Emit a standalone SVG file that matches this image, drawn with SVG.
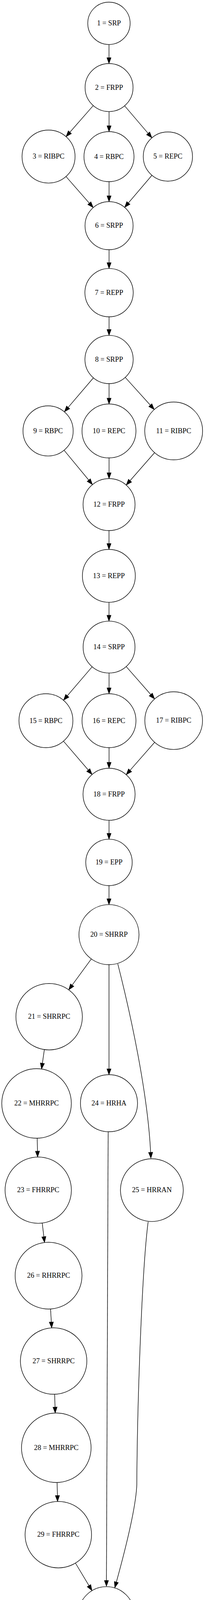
<svg xmlns="http://www.w3.org/2000/svg" width="527" height="4583" viewBox="0 0 527 4583">
<style>
.node circle{fill:#ffffff;stroke:#000000;stroke-width:1.4}
.node text{font-family:"Liberation Serif","Times New Roman",serif;font-size:18.3px;text-anchor:middle;fill:#000000}
.edge{fill:none;stroke:#000000;stroke-width:1.4;marker-end:url(#arr)}
</style>
<defs>
<marker id="arr" markerUnits="userSpaceOnUse" markerWidth="17" markerHeight="13" refX="0" refY="5.4" orient="auto" overflow="visible">
<path d="M0,0 L15,5.4 L0,10.8 Z" fill="#000000" stroke="#000000" stroke-width="1"/>
</marker>
</defs>
<rect x="0" y="0" width="527" height="4583" fill="#ffffff"/>
<g id="edges">
<path class="edge" d="M278.8,113.9 L278.8,147.8"/>
<path class="edge" d="M238.5,270.4 L178.8,338.5"/>
<path class="edge" d="M279,285.6 L279,322"/>
<path class="edge" d="M318.8,270.9 L378.9,341.4"/>
<path class="edge" d="M168.8,451.9 L228.6,520.2"/>
<path class="edge" d="M279,465 L279,501.3"/>
<path class="edge" d="M388.7,448.7 L328.5,519.5"/>
<path class="edge" d="M279,639.3 L279,672.4"/>
<path class="edge" d="M279,811 L279,843.6"/>
<path class="edge" d="M239,967.2 L174.4,1042.9"/>
<path class="edge" d="M279,982 L279,1019.3"/>
<path class="edge" d="M320.4,966.1 L384.6,1037.2"/>
<path class="edge" d="M163.9,1152.6 L227,1229"/>
<path class="edge" d="M279,1172.3 L279,1210.3"/>
<path class="edge" d="M395.5,1158.8 L332.7,1230.5"/>
<path class="edge" d="M278.8,1358.3 L278.8,1391.5"/>
<path class="edge" d="M278.8,1541.9 L278.8,1575.1"/>
<path class="edge" d="M235.8,1706.9 L172.2,1781.2"/>
<path class="edge" d="M279,1722.9 L279,1761"/>
<path class="edge" d="M322.8,1706.4 L385.7,1778"/>
<path class="edge" d="M162.4,1897.4 L225.8,1971.3"/>
<path class="edge" d="M279,1914 L279,1951.7"/>
<path class="edge" d="M395.6,1900.3 L332.8,1971.9"/>
<path class="edge" d="M278.9,2099.9 L278.9,2133.4"/>
<path class="edge" d="M278.8,2267.2 L278.8,2300.9"/>
<path class="edge" d="M233.6,2454.8 L184.6,2521.9"/>
<path class="edge" d="M278.8,2469.5 L278.8,2736.3"/>
<path class="edge" d="M301.3,2467.3 C335,2600 378,2800 385.3,2950"/>
<path class="edge" d="M113.5,2686.8 L108.45,2721.85"/>
<path class="edge" d="M95.2,2913.8 L95.9,2947"/>
<path class="edge" d="M108,3131 L112.2,3165.9"/>
<path class="edge" d="M129.3,3351 L131.3,3384.5"/>
<path class="edge" d="M139.8,3569.3 L140.8,3602.2"/>
<path class="edge" d="M146.1,3795.2 L146.9,3828.7"/>
<path class="edge" d="M276.7,2897.5 C274,3300 272.3,3700 272.3,4046"/>
<path class="edge" d="M379,3127.7 C363,3250 351,3600 350,3800 C348,3860 317,3980 297.7,4050"/>
<path class="edge" d="M193,4001.5 L227.6,4059.2"/>
<path class="edge" d="M272.2,4205.1 L272.2,4239.3"/>
<path class="edge" d="M272.2,4407.7 L272.2,4441.2"/>
</g>
<g id="node1" class="node"><circle cx="278.7" cy="59.7" r="54.2"/><text x="278.7" y="65.2">1 = SRP</text></g>
<g id="node2" class="node"><circle cx="279" cy="224.2" r="61.4"/><text x="279" y="229.7">2 = FRPP</text></g>
<g id="node3" class="node"><circle cx="124.2" cy="400.8" r="67.8"/><text x="124.2" y="406.3">3 = RIBPC</text></g>
<g id="node4" class="node"><circle cx="278.8" cy="401" r="64"/><text x="278.8" y="406.5">4 = RBPC</text></g>
<g id="node5" class="node"><circle cx="429.5" cy="400.7" r="63"/><text x="429.5" y="406.2">5 = REPC</text></g>
<g id="node6" class="node"><circle cx="279" cy="577.8" r="61.5"/><text x="279" y="583.3">6 = SRPP</text></g>
<g id="node7" class="node"><circle cx="279" cy="749.2" r="61.8"/><text x="279" y="754.7">7 = REPP</text></g>
<g id="node8" class="node"><circle cx="279" cy="920.3" r="61.7"/><text x="279" y="925.8">8 = SRPP</text></g>
<g id="node9" class="node"><circle cx="123" cy="1103.2" r="64.2"/><text x="123" y="1108.7">9 = RBPC</text></g>
<g id="node10" class="node"><circle cx="278.8" cy="1103.3" r="69"/><text x="278.8" y="1108.8">10 = REPC</text></g>
<g id="node11" class="node"><circle cx="444.3" cy="1103.2" r="74"/><text x="444.3" y="1108.7">11 = RIBPC</text></g>
<g id="node12" class="node"><circle cx="279" cy="1291.8" r="66.5"/><text x="279" y="1297.3">12 = FRPP</text></g>
<g id="node13" class="node"><circle cx="278.5" cy="1474.2" r="67.7"/><text x="278.5" y="1479.7">13 = REPP</text></g>
<g id="node14" class="node"><circle cx="279" cy="1656.5" r="66.4"/><text x="279" y="1662">14 = SRPP</text></g>
<g id="node15" class="node"><circle cx="117.5" cy="1845" r="69"/><text x="117.5" y="1850.5">15 = RBPC</text></g>
<g id="node16" class="node"><circle cx="278.8" cy="1845" r="69"/><text x="278.8" y="1850.5">16 = REPC</text></g>
<g id="node17" class="node"><circle cx="444.3" cy="1844.8" r="73.8"/><text x="444.3" y="1850.3">17 = RIBPC</text></g>
<g id="node18" class="node"><circle cx="279" cy="2033.3" r="66.6"/><text x="279" y="2038.8">18 = FRPP</text></g>
<g id="node19" class="node"><circle cx="278.8" cy="2207.8" r="59.4"/><text x="278.8" y="2213.3">19 = EPP</text></g>
<g id="node20" class="node"><circle cx="278.8" cy="2392.7" r="76.8"/><text x="278.8" y="2398.2">20 = SHRRP</text></g>
<g id="node21" class="node"><circle cx="125.7" cy="2602.7" r="85"/><text x="125.7" y="2608.2">21 = SHRRPC</text></g>
<g id="node22" class="node"><circle cx="93.5" cy="2824.8" r="89"/><text x="93.5" y="2830.3">22 = MHRRPC</text></g>
<g id="node23" class="node"><circle cx="97.8" cy="3046.8" r="84.8"/><text x="97.8" y="3052.3">23 = FHRRPC</text></g>
<g id="node24" class="node"><circle cx="278.8" cy="2824.3" r="73"/><text x="278.8" y="2829.8">24 = HRHA</text></g>
<g id="node25" class="node"><circle cx="388.5" cy="3046.8" r="80.3"/><text x="388.5" y="3052.3">25 = HRRAN</text></g>
<g id="node26" class="node"><circle cx="124.2" cy="3265.7" r="85.5"/><text x="124.2" y="3271.2">26 = RHRRPC</text></g>
<g id="node27" class="node"><circle cx="137.2" cy="3484.3" r="85"/><text x="137.2" y="3489.8">27 = SHRRPC</text></g>
<g id="node28" class="node"><circle cx="144" cy="3706.2" r="89"/><text x="144" y="3711.7">28 = MHRRPC</text></g>
<g id="node29" class="node"><circle cx="149.2" cy="3928.7" r="85"/><text x="149.2" y="3934.2">29 = FHRRPC</text></g>
<g id="node30" class="node"><circle cx="272.2" cy="4133.5" r="71.6"/><text x="272.2" y="4139">30 = HRRR</text></g>
<g id="node31" class="node"><circle cx="272.2" cy="4331" r="76.7"/><text x="272.2" y="4336.5">31 = FHRRP</text></g>
<g id="node32" class="node"><circle cx="272.3" cy="4516.7" r="60.5"/><text x="272.3" y="4522.2">32 = FRP</text></g>
</svg>
